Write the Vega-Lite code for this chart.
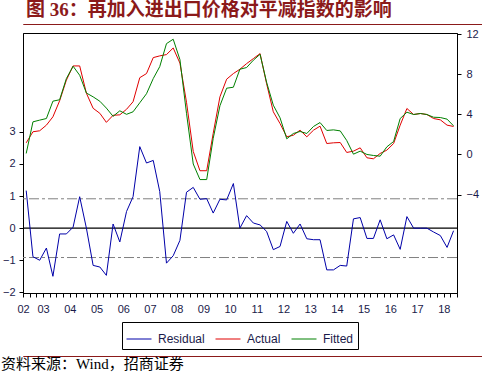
{
  "$schema": "https://vega.github.io/schema/vega-lite/v6.json",
  "padding": 0,
  "background": "white",
  "config": {
    "view": {"stroke": null},
    "axis": {"grid": false, "domainColor": "#000000", "tickColor": "#000000", "tickSize": 4, "labelFont": "Liberation Sans", "labelFontSize": 11, "labelColor": "#1a1a4a", "labelOverlap": false},
    "legend": {"orient": "none", "legendX": 99, "legendY": 298, "direction": "horizontal", "columns": 3, "symbolType": "stroke", "symbolSize": 625, "symbolStrokeWidth": 1, "labelFont": "Liberation Sans", "labelFontSize": 12, "labelColor": "#1a1a4a", "labelOffset": 6, "columnPadding": 8, "padding": 4, "strokeColor": "#000000"}
  },
  "concat": [
    {
      "width": 482,
      "height": 0.01,
      "title": {"text": "图 36：再加入进出口价格对平减指数的影响", "anchor": "start", "dx": 3, "offset": 4, "font": "Liberation Serif, Noto Sans CJK SC", "fontSize": 19, "fontWeight": "bold", "color": "#8B1A1A"},
      "data": {"values": []},
      "mark": "rule",
      "encoding": {},
      "view": {"stroke": "#8B1A1A", "strokeWidth": 1}
    },
    {
      "concat": [
        {
          "concat": [
            {
              "width": 434,
              "height": 260,
              "view": {"stroke": "#000000"},
              "data": {"values": [
                {"date": "2002-05-15", "Residual": 1.17, "Actual": 1.16, "Fitted": 0.1},
                {"date": "2002-08-15", "Residual": -0.89, "Actual": 2.26, "Fitted": 3.25},
                {"date": "2002-11-15", "Residual": -1.0, "Actual": 2.36, "Fitted": 3.42},
                {"date": "2003-02-15", "Residual": -0.62, "Actual": 2.92, "Fitted": 3.58},
                {"date": "2003-05-15", "Residual": -1.5, "Actual": 3.75, "Fitted": 5.31},
                {"date": "2003-08-15", "Residual": -0.18, "Actual": 5.35, "Fitted": 5.45},
                {"date": "2003-11-15", "Residual": -0.18, "Actual": 7.4, "Fitted": 7.56},
                {"date": "2004-02-15", "Residual": 0.03, "Actual": 8.82, "Fitted": 8.79},
                {"date": "2004-05-15", "Residual": 0.98, "Actual": 8.82, "Fitted": 7.89},
                {"date": "2004-08-15", "Residual": 0.0, "Actual": 6.1, "Fitted": 6.12},
                {"date": "2004-11-15", "Residual": -1.16, "Actual": 4.6, "Fitted": 5.74},
                {"date": "2005-02-15", "Residual": -1.21, "Actual": 4.1, "Fitted": 5.3},
                {"date": "2005-05-15", "Residual": -1.47, "Actual": 3.2, "Fitted": 4.62},
                {"date": "2005-08-15", "Residual": 0.13, "Actual": 3.9, "Fitted": 3.8},
                {"date": "2005-11-15", "Residual": -0.43, "Actual": 3.95, "Fitted": 4.35},
                {"date": "2006-02-15", "Residual": 0.52, "Actual": 4.5, "Fitted": 4.0},
                {"date": "2006-05-15", "Residual": 0.98, "Actual": 5.25, "Fitted": 4.25},
                {"date": "2006-08-15", "Residual": 2.54, "Actual": 7.65, "Fitted": 5.15},
                {"date": "2006-11-15", "Residual": 2.03, "Actual": 8.06, "Fitted": 6.05},
                {"date": "2007-02-15", "Residual": 2.11, "Actual": 9.65, "Fitted": 7.56},
                {"date": "2007-05-15", "Residual": 1.14, "Actual": 9.82, "Fitted": 8.75},
                {"date": "2007-08-15", "Residual": -1.09, "Actual": 9.95, "Fitted": 11.04},
                {"date": "2007-11-15", "Residual": -0.86, "Actual": 10.61, "Fitted": 11.48},
                {"date": "2008-02-15", "Residual": -0.38, "Actual": 9.1, "Fitted": 9.45},
                {"date": "2008-05-15", "Residual": 1.12, "Actual": 5.2, "Fitted": 4.1},
                {"date": "2008-08-15", "Residual": 1.27, "Actual": 0.3, "Fitted": -0.95},
                {"date": "2008-11-15", "Residual": 0.9, "Actual": -1.62, "Fitted": -2.5},
                {"date": "2009-02-15", "Residual": 0.92, "Actual": -1.62, "Fitted": -2.5},
                {"date": "2009-05-15", "Residual": 0.47, "Actual": 2.1, "Fitted": 1.6},
                {"date": "2009-08-15", "Residual": 0.9, "Actual": 5.74, "Fitted": 4.85},
                {"date": "2009-11-15", "Residual": 0.88, "Actual": 7.5, "Fitted": 6.6},
                {"date": "2010-02-15", "Residual": 1.39, "Actual": 8.06, "Fitted": 6.7},
                {"date": "2010-05-15", "Residual": 0.0, "Actual": 8.49, "Fitted": 8.49},
                {"date": "2010-08-15", "Residual": 0.39, "Actual": 9.05, "Fitted": 8.66},
                {"date": "2010-11-15", "Residual": 0.16, "Actual": 9.55, "Fitted": 9.39},
                {"date": "2011-02-15", "Residual": 0.1, "Actual": 10.05, "Fitted": 9.98},
                {"date": "2011-05-15", "Residual": -0.1, "Actual": 7.06, "Fitted": 7.2},
                {"date": "2011-08-15", "Residual": -0.67, "Actual": 4.25, "Fitted": 4.91},
                {"date": "2011-11-15", "Residual": -0.57, "Actual": 3.08, "Fitted": 3.65},
                {"date": "2012-02-15", "Residual": 0.21, "Actual": 1.76, "Fitted": 1.56},
                {"date": "2012-05-15", "Residual": -0.16, "Actual": 1.92, "Fitted": 2.09},
                {"date": "2012-08-15", "Residual": 0.13, "Actual": 2.42, "Fitted": 2.29},
                {"date": "2012-11-15", "Residual": -0.33, "Actual": 1.76, "Fitted": 2.09},
                {"date": "2013-02-15", "Residual": -0.36, "Actual": 2.42, "Fitted": 2.79},
                {"date": "2013-05-15", "Residual": -0.36, "Actual": 2.82, "Fitted": 3.18},
                {"date": "2013-08-15", "Residual": -1.3, "Actual": 1.09, "Fitted": 2.39},
                {"date": "2013-11-15", "Residual": -1.3, "Actual": 1.16, "Fitted": 2.45},
                {"date": "2014-02-15", "Residual": -1.16, "Actual": 1.19, "Fitted": 2.35},
                {"date": "2014-05-15", "Residual": -1.18, "Actual": 0.2, "Fitted": 1.39},
                {"date": "2014-08-15", "Residual": 0.29, "Actual": 0.33, "Fitted": 0.03},
                {"date": "2014-11-15", "Residual": 0.33, "Actual": 0.66, "Fitted": 0.33},
                {"date": "2015-02-15", "Residual": -0.32, "Actual": -0.33, "Fitted": 0.0},
                {"date": "2015-05-15", "Residual": -0.32, "Actual": -0.43, "Fitted": -0.1},
                {"date": "2015-08-15", "Residual": 0.26, "Actual": 0.1, "Fitted": -0.17},
                {"date": "2015-11-15", "Residual": -0.33, "Actual": 0.43, "Fitted": 0.76},
                {"date": "2016-02-15", "Residual": -0.21, "Actual": 1.09, "Fitted": 1.29},
                {"date": "2016-05-15", "Residual": -0.66, "Actual": 2.92, "Fitted": 3.58},
                {"date": "2016-08-15", "Residual": 0.36, "Actual": 4.58, "Fitted": 4.21},
                {"date": "2016-11-15", "Residual": 0.0, "Actual": 3.98, "Fitted": 3.98},
                {"date": "2017-02-15", "Residual": 0.0, "Actual": 4.08, "Fitted": 4.08},
                {"date": "2017-05-15", "Residual": 0.0, "Actual": 3.98, "Fitted": 3.98},
                {"date": "2017-08-15", "Residual": -0.12, "Actual": 3.58, "Fitted": 3.71},
                {"date": "2017-11-15", "Residual": -0.23, "Actual": 3.45, "Fitted": 3.68},
                {"date": "2018-02-15", "Residual": -0.6, "Actual": 2.92, "Fitted": 3.52},
                {"date": "2018-05-15", "Residual": -0.08, "Actual": 2.79, "Fitted": 2.85}
              ]},
              "layer": [
                {
                  "layer": [
                    {
                      "data": {"values": [{"band": 0.915}, {"band": -0.915}]},
                      "mark": {"type": "rule", "color": "#808080", "strokeWidth": 1, "strokeDash": [10, 3, 3, 3]},
                      "encoding": {"y": {"field": "band", "type": "quantitative", "title": null}}
                    },
                    {
                      "data": {"values": [{"zero": 0}]},
                      "mark": {"type": "rule", "color": "#000000", "strokeWidth": 1.2},
                      "encoding": {"y": {"field": "zero", "type": "quantitative", "title": null}}
                    },
                    {
                      "transform": [
                        {"fold": ["Residual", "Actual", "Fitted"], "as": ["series", "value"]},
                        {"filter": "datum.series === 'Residual'"}
                      ],
                      "mark": {"type": "line", "strokeWidth": 1},
                      "encoding": {
                        "x": {"field": "date", "type": "temporal", "title": null,
                          "scale": {"type": "utc", "nice": false, "domain": [{"year": 2002, "month": 4, "date": 1, "utc": true}, {"year": 2018, "month": 7, "date": 1, "utc": true}]},
                          "axis": {"tickCount": {"interval": "month", "step": 3}, "labelExpr": "utcmonth(datum.value) === 0 ? utcFormat(datum.value, '%y') : ((utcyear(datum.value) === 2002 && utcmonth(datum.value) === 3) ? '02' : '')", "labelFlush": false, "labelOverlap": false, "labelPadding": 6, "tickSize": 4}},
                        "y": {"field": "value", "type": "quantitative", "title": null,
                          "scale": {"domain": [-2.02, 6.08], "nice": false, "zero": false},
                          "axis": {"orient": "left", "values": [-2, -1, 0, 1, 2, 3], "labelPadding": 4, "minExtent": 22, "maxExtent": 22, "labelOverlap": false, "labelBound": false}},
                        "color": {"field": "series", "type": "nominal", "title": null,
                          "scale": {"domain": ["Residual", "Actual", "Fitted"], "range": ["#0000A8", "#E00000", "#008000"]}}
                      }
                    }
                  ]
                },
                {
                  "transform": [
                    {"fold": ["Residual", "Actual", "Fitted"], "as": ["series", "value"]},
                    {"filter": "datum.series !== 'Residual'"}
                  ],
                  "mark": {"type": "line", "strokeWidth": 1},
                  "encoding": {
                    "x": {"field": "date", "type": "temporal", "title": null,
                      "scale": {"type": "utc", "nice": false, "domain": [{"year": 2002, "month": 4, "date": 1, "utc": true}, {"year": 2018, "month": 7, "date": 1, "utc": true}]}},
                    "y": {"field": "value", "type": "quantitative", "title": null,
                      "scale": {"domain": [-13.8, 12.1], "nice": false, "zero": false},
                      "axis": {"orient": "right", "values": [-4, 0, 4, 8, 12], "labelPadding": 5}},
                    "color": {"field": "series", "type": "nominal", "title": null,
                      "scale": {"domain": ["Residual", "Actual", "Fitted"], "range": ["#0000A8", "#E00000", "#008000"]}}
                  }
                }
              ],
              "resolve": {"scale": {"y": "independent"}}
            }
          ],
          "columns": 1
        },
        {
          "width": 482,
          "height": 0.01,
          "title": {"text": "资料来源：Wind，招商证券", "orient": "bottom", "anchor": "start", "dx": -22, "offset": 1, "font": "Liberation Serif, Noto Sans CJK SC", "fontSize": 15, "fontWeight": "normal", "color": "#000000"},
          "data": {"values": []},
          "mark": "rule",
          "encoding": {},
          "view": {"stroke": "#8B1A1A", "strokeWidth": 1}
        }
      ],
      "columns": 1,
      "align": "none",
      "spacing": 40
    }
  ],
  "columns": 1,
  "align": "none",
  "spacing": 2
}
